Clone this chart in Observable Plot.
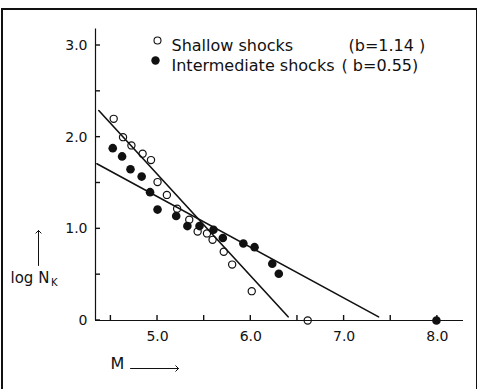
<!DOCTYPE html>
<html>
<head>
<meta charset="utf-8">
<script src="https://cdn.jsdelivr.net/npm/d3@7"></script>
<script src="https://cdn.jsdelivr.net/npm/@observablehq/plot@0.6"></script>
<style>
  html, body { margin: 0; padding: 0; background: #fff; }
  #wrap { position: relative; width: 477px; height: 389px; overflow: hidden; }
  #border { position: absolute; left: 1px; top: 8px; width: 473px; height: 400px;
            border-left: 2px solid #111; border-top: 2px solid #111; border-right: 2px solid #111; pointer-events: none; }
</style>
</head>
<body>
<div id="wrap"><div id="border"></div></div>
<script>
// Shallow shocks (open circles): magnitude M, log N_K
const shallowM = [4.53, 4.63, 4.72, 4.84, 4.93, 5.00, 5.10, 5.21, 5.34, 5.43, 5.53, 5.59, 5.71, 5.80, 6.01, 6.61];
const shallowN = [2.20, 2.00, 1.91, 1.82, 1.75, 1.51, 1.37, 1.22, 1.10, 0.97, 0.95, 0.88, 0.75, 0.61, 0.32, 0.00];
// Intermediate shocks (filled circles)
const interM = [4.52, 4.62, 4.71, 4.83, 4.92, 5.00, 5.20, 5.32, 5.45, 5.60, 5.70, 5.92, 6.04, 6.23, 6.30, 7.99];
const interN = [1.88, 1.79, 1.65, 1.57, 1.40, 1.21, 1.14, 1.03, 1.03, 0.99, 0.90, 0.84, 0.80, 0.62, 0.51, 0.00];
// Fitted lines (endpoints)
const shallowFitM = [4.37, 6.40];
const shallowFitN = [2.29, 0.04];
const interFitM = [4.35, 7.37];
const interFitN = [1.71, 0.04];
// Ticks and labels
const xTicks = [4.5, 5.0, 5.5, 6.0, 6.5, 7.0, 7.5, 8.0];
const yTicks = [0, 0.5, 1.0, 1.5, 2.0, 2.5, 3.0];
const legendLabels = ["Shallow shocks", "Intermediate shocks"];
const legendB = ["(b=1.14 )", "( b=0.55)"];

const ink = "#111";
const font = "DejaVu Sans, sans-serif";
const xMin = 4.335;
const tickLen = 5;
const shallow = shallowM.map((m, i) => ({M: m, N: shallowN[i]}));
const inter = interM.map((m, i) => ({M: m, N: interN[i]}));
const fitS = shallowFitM.map((m, i) => ({M: m, N: shallowFitN[i]}));
const fitI = interFitM.map((m, i) => ({M: m, N: interFitN[i]}));
const xFmt = d => Number.isInteger(d) ? d.toFixed(1) : "";
const yFmt = d => d === 0 ? "0" : Number.isInteger(d) ? d.toFixed(1) : "";

// inward-pointing ticks drawn through the plot's own scales
function inwardTicks(index, scales) {
  const g = d3.create("svg:g").attr("stroke", ink).attr("stroke-width", 1.4);
  const x0 = scales.x(xMin), y0 = scales.y(0);
  for (const t of xTicks) {
    const px = scales.x(t);
    g.append("line").attr("x1", px).attr("x2", px).attr("y1", y0).attr("y2", y0 - tickLen);
  }
  for (const t of yTicks) {
    const py = scales.y(t);
    g.append("line").attr("x1", x0).attr("x2", x0 + tickLen).attr("y1", py).attr("y2", py);
  }
  return g.node();
}

const chart = Plot.plot({
  width: 477,
  height: 389,
  marginLeft: 95,
  marginRight: 14,
  marginTop: 28.5,
  marginBottom: 69,
  style: {fontFamily: font, color: ink, background: "transparent", overflow: "visible"},
  x: {domain: [xMin, 8.28]},
  y: {domain: [0, 3.18]},
  marks: [
    Plot.ruleX([xMin], {stroke: ink, strokeWidth: 1.2}),
    Plot.ruleY([0], {stroke: ink, strokeWidth: 1.2}),
    inwardTicks,
    Plot.axisX({ticks: xTicks, tickSize: 0, tickPadding: 11, tickFormat: xFmt, fontSize: 14, label: null, fill: ink, lineAnchor: "top"}),
    Plot.axisY({ticks: yTicks, tickSize: 0, tickPadding: 8, tickFormat: yFmt, fontSize: 14, label: null, fill: ink}),
    Plot.line(fitS, {x: "M", y: "N", stroke: ink, strokeWidth: 1.6}),
    Plot.line(fitI, {x: "M", y: "N", stroke: ink, strokeWidth: 1.6}),
    Plot.dot(shallow, {x: "M", y: "N", r: 3.6, stroke: ink, strokeWidth: 1.2, fill: "none"}),
    Plot.dot(inter, {x: "M", y: "N", r: 4.3, fill: ink, stroke: "none"}),
    // legend
    Plot.dot([legendLabels[0]], {frameAnchor: "top-left", dx: 62, dy: 11.5, r: 3.5, stroke: ink, strokeWidth: 1.1, fill: "none"}),
    Plot.dot([legendLabels[1]], {frameAnchor: "top-left", dx: 60, dy: 31.5, r: 4.2, fill: ink}),
    Plot.text([legendLabels[0]], {frameAnchor: "top-left", text: d => d, dx: 76, dy: 11, textAnchor: "start", fontSize: 16, fill: ink}),
    Plot.text([legendLabels[1]], {frameAnchor: "top-left", text: d => d, dx: 76, dy: 31, textAnchor: "start", fontSize: 16, fill: ink}),
    Plot.text([legendB[0]], {frameAnchor: "top-left", text: d => d, dx: 253, dy: 11, textAnchor: "start", fontSize: 16, fill: ink}),
    Plot.text([legendB[1]], {frameAnchor: "top-left", text: d => d, dx: 246, dy: 31, textAnchor: "start", fontSize: 16, fill: ink}),
    // axis titles
    Plot.text(["log N"], {frameAnchor: "bottom-left", text: d => d, dx: -85, dy: -38, textAnchor: "start", fontSize: 15, fill: ink}),
    Plot.text(["K"], {frameAnchor: "bottom-left", text: d => d, dx: -44.5, dy: -35, textAnchor: "start", fontSize: 10, fill: ink}),
    Plot.vector([0], {frameAnchor: "bottom-left", dx: -57, dy: -55, anchor: "start", length: 35, rotate: 0, r: 1.3, stroke: ink, strokeWidth: 1}),
    Plot.text(["M"], {frameAnchor: "bottom-left", text: d => d, dx: 15, dy: 48, textAnchor: "start", fontSize: 16, fill: ink}),
    Plot.vector([0], {frameAnchor: "bottom-left", dx: 35, dy: 48, anchor: "start", length: 48, rotate: 90, r: 1.0, stroke: ink, strokeWidth: 1})
  ]
});
document.getElementById("wrap").prepend(chart);
</script>
</body>
</html>
